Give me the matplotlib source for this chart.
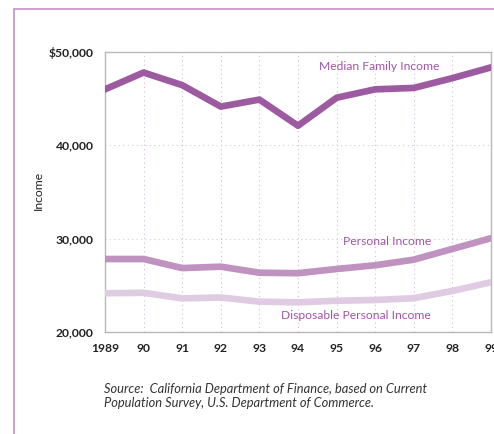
import matplotlib
matplotlib.use("Agg")
import matplotlib.pyplot as plt
from matplotlib.patches import Rectangle

years = [1989, 1990, 1991, 1992, 1993, 1994, 1995, 1996, 1997, 1998, 1999]
year_labels = ["1989", "90", "91", "92", "93", "94", "95", "96", "97", "98", "99"]
median_family = [46000, 47800, 46450, 44150, 44900, 42100, 45100, 46000, 46150, 47200, 48350]
personal = [27820, 27820, 26850, 27000, 26350, 26300, 26750, 27150, 27750, 28900, 30050]
disposable = [24150, 24200, 23600, 23700, 23250, 23180, 23350, 23430, 23620, 24400, 25330]
y_ticks = [20000, 30000, 40000, 50000]
y_tick_labels = ["20,000", "30,000", "40,000", "$50,000"]

W, H = 494, 434
fig = plt.figure(figsize=(W / 100, H / 100), dpi=100)
plt.rcParams['font.family'] = ['Lato', 'DejaVu Sans']

# outer frame
fig.patches.append(Rectangle((14 / W, -0.1), 1.2, (H - 9) / H + 0.1, transform=fig.transFigure,
                             fill=False, edgecolor="#c89ac8", linewidth=1.3))

ax = fig.add_axes([105 / W, (H - 332) / H, (491 - 105) / W, (332 - 52) / H])
ax.set_xlim(1989, 1999)
ax.set_ylim(20000, 50000)

c_med = "#9c5aa0"
c_pers = "#bf92c0"
c_disp = "#e0cce2"
ax.plot(years, disposable, color=c_disp, lw=4.8, solid_capstyle="round", solid_joinstyle="round", zorder=3)
ax.plot(years, personal, color=c_pers, lw=4.8, solid_capstyle="round", solid_joinstyle="round", zorder=3)
ax.plot(years, median_family, color=c_med, lw=4.8, solid_capstyle="round", solid_joinstyle="round", zorder=3)

for x in years[1:-1]:
    ax.axvline(x, color="#d8b8d8", lw=0.8, ls=(0, (1, 3)), zorder=1)
for y in [30000, 40000]:
    ax.axhline(y, color="#d0d0d0", lw=0.8, ls=(0, (1, 3)), zorder=1)

for s in ax.spines.values():
    s.set_color("#b8b8b8")
    s.set_linewidth(1.0)

ax.set_xticks(years)
ax.set_xticklabels(year_labels)
ax.set_yticks(y_ticks)
ax.set_yticklabels(y_tick_labels)
ax.tick_params(length=0, labelsize=8.7, colors="#222222")
ax.tick_params(axis="x", pad=8)
ax.tick_params(axis="y", pad=8)
for lab in ax.get_yticklabels() + ax.get_xticklabels():
    lab.set_fontweight("bold")

ax.text(1996.1, 48500, "Median Family Income", color="#a056a4", fontsize=8.7, ha="center", va="center")
ax.text(1996.3, 29700, "Personal Income", color="#a056a4", fontsize=8.7, ha="center", va="center")
ax.text(1995.5, 21800, "Disposable Personal Income", color="#a056a4", fontsize=8.7, ha="center", va="center")

fig.text(38 / W, 1 - 190 / H, "Income", rotation=90, fontsize=8.7, ha="center", va="center", color="#222222")
fig.text(104 / W, 1 - 396 / H, "Source:  California Department of Finance, based on Current\nPopulation Survey, U.S. Department of Commerce.",
         fontsize=9.3, style="italic", ha="left", va="center", color="#333333", linespacing=1.25)

fig.savefig("out.png", dpi=100)
